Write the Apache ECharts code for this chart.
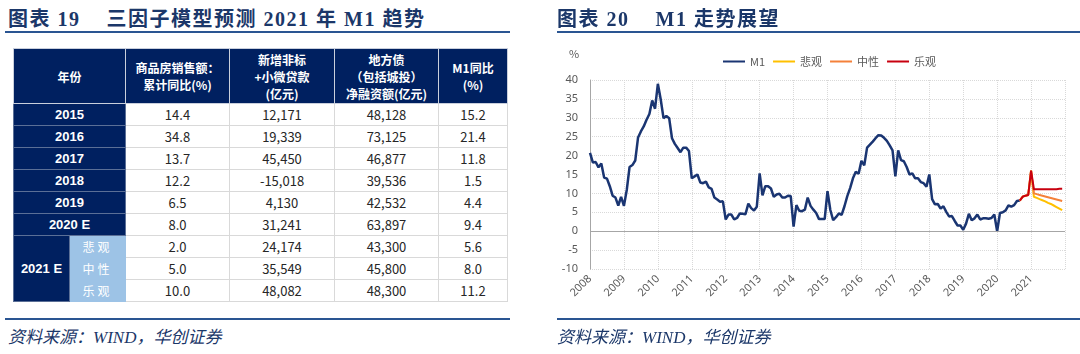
<!DOCTYPE html>
<html>
<head>
<meta charset="utf-8">
<script src="https://cdn.jsdelivr.net/npm/echarts@6/dist/echarts.min.js"></script>
<style>
body { margin: 0; width: 1080px; height: 354px; background: #fff; position: relative; overflow: hidden; font-family: "Noto Sans CJK SC", sans-serif; }
.title { position: absolute; top: 3px; font-family: "Liberation Serif", "Noto Sans CJK SC", serif; font-weight: bold; font-size: 20px; letter-spacing: 1.5px; color: #1b3769; white-space: pre; }
.rule { position: absolute; height: 2px; background: #2a5592; }
.source { position: absolute; top: 323px; font-family: "Liberation Serif", "Noto Sans CJK SC", serif; font-style: italic; font-size: 17px; color: #1b3769; }
#tbl { position: absolute; left: 13px; top: 48px; border-collapse: collapse; table-layout: fixed; border-right: 1px solid #1f3864; border-bottom: 1px solid #1f3864; }
#tbl td { padding: 0; text-align: center; height: 21px; font-size: 13px; color: #262626; border: 1px solid #d9d9d9; font-family: "Noto Sans CJK SC", sans-serif; }
#tbl tr.head td { height: 54px; background: #002060; color: #fff; font-weight: bold; font-size: 12px; line-height: 17px; border-color: #c9cfdc; }
#tbl td.yr { background: #002060; color: #fff; font-weight: bold; font-family: "Liberation Sans", sans-serif; border-color: #5b6f96; }
#tbl td.sc { background: #9dc3e6; color: #fff; font-size: 12px; letter-spacing: 3px; border-color: #9dc3e6; }
#chart { position: absolute; left: 550px; top: 0; width: 530px; height: 354px; }
</style>
</head>
<body>
<div class="title" style="left:8px">图表 19    三因子模型预测 2021 年 M1 趋势</div>
<div class="rule" style="left:5px;width:505px;top:31px"></div>
<table id="tbl"></table>
<div class="rule" style="left:5px;width:505px;top:318px"></div>
<div class="source" style="left:8px">资料来源：WIND，华创证券</div>

<div id="chart"></div>
<div class="title" style="left:557px">图表 20    M1 走势展望</div>
<div class="rule" style="left:557px;width:523px;top:31px"></div>
<div class="rule" style="left:557px;width:523px;top:318px"></div>
<div class="source" style="left:557px">资料来源：WIND，华创证券</div>

<script>
// 表格数据
var tableYears = ['2015', '2016', '2017', '2018', '2019', '2020 E'];
var scenarioYear = '2021 E';
var scenarioNames = ['悲观', '中性', '乐观'];
var salesYoY = [14.4, 34.8, 13.7, 12.2, 6.5, 8.0, 2.0, 5.0, 10.0];
var nonStdLoans = [12171, 19339, 45450, -15018, 4130, 31241, 24174, 35549, 48082];
var localDebt = [48128, 73125, 46877, 39536, 42532, 63897, 43300, 45800, 48300];
var m1YoYTable = [15.2, 21.4, 11.8, 1.5, 4.4, 9.4, 5.6, 8.0, 11.2];
var tableHead = ['年份', '商品房销售额：<br>累计同比(%)', '新增非标<br>+小微贷款<br>(亿元)', '地方债<br>（包括城投）<br>净融资额(亿元)', 'M1同比<br>(%)'];

// 图表数据：M1同比 2008/1 - 2020/9
var m1 = [
  20.7, 18.2, 18.3, 16.9, 17.9, 14.2, 13.9, 11.9, 9.4, 8.9, 6.8, 9.1,
  6.7, 10.9, 17.0, 17.5, 18.7, 24.8, 26.4, 27.7, 29.5, 31.0, 34.6, 32.4,
  39.0, 34.9, 29.9, 30.5, 29.9, 24.6, 23.1, 22.0, 20.9, 22.1, 22.1, 21.2,
  14.0, 14.5, 15.0, 12.9, 12.7, 13.1, 11.6, 11.2, 8.9, 8.4, 7.8, 7.9,
  3.1, 4.4, 4.4, 3.1, 3.5, 4.7, 4.6, 4.5, 7.3, 6.1, 5.5, 6.5,
  15.3, 9.5, 11.9, 11.9, 11.3, 9.1, 9.7, 9.9, 8.9, 8.9, 9.4, 9.3,
  1.2, 6.9, 5.4, 5.3, 5.7, 8.9, 6.7, 5.7, 4.8, 3.2, 3.2, 3.2,
  10.6, 5.6, 2.9, 3.7, 4.7, 4.3, 6.6, 9.3, 11.4, 14.0, 15.7, 15.2,
  18.6, 17.4, 22.1, 22.9, 23.7, 24.6, 25.4, 25.3, 24.7, 23.9, 22.7, 21.4,
  14.5, 21.4, 18.8, 18.5, 17.0, 15.0, 15.3, 14.0, 14.0, 13.0, 12.7, 11.8,
  15.0, 8.5, 7.1, 7.2, 6.0, 6.6, 5.1, 3.9, 4.0, 2.7, 1.5, 1.5,
  0.4, 2.0, 4.6, 2.9, 3.4, 4.4, 3.1, 3.4, 3.4, 3.3, 3.5, 4.4,
  0.0, 4.8, 5.0, 5.5, 6.8, 6.5, 6.9, 8.0, 8.1
];
// 情景预测 2020/9 - 2021/12
var scenarioStart = '2020/9';
var bearish = [8.1, 9.1, 9.4, 9.6, 16.0, 9.1, 8.8, 8.5, 8.2, 7.9, 7.5, 7.2, 6.8, 6.4, 6.0, 5.6];
var neutral = [8.1, 9.1, 9.4, 9.6, 16.0, 10.0, 9.8, 9.6, 9.4, 9.2, 9.0, 8.8, 8.6, 8.4, 8.2, 8.0];
var bullish = [8.1, 9.1, 9.4, 9.6, 16.0, 11.1, 11.1, 11.1, 11.1, 11.1, 11.1, 11.1, 11.1, 11.1, 11.2, 11.2];
var yTicks = { min: -10, max: 40, interval: 5 };

// 生成表格
var html = '<colgroup><col style="width:56px"><col style="width:56px"><col style="width:104px"><col style="width:105px"><col style="width:104px"><col style="width:69px"></colgroup>';
html += '<tr class="head"><td colspan="2">' + tableHead[0] + '</td>';
for (var h = 1; h < tableHead.length; h++) html += '<td>' + tableHead[h] + '</td>';
html += '</tr>';
function cells(i) {
    return '<td>' + salesYoY[i].toFixed(1) + '</td><td>' + nonStdLoans[i].toLocaleString('en-US') +
        '</td><td>' + localDebt[i].toLocaleString('en-US') + '</td><td>' + m1YoYTable[i].toFixed(1) + '</td>';
}
for (var i = 0; i < tableYears.length; i++) {
    html += '<tr><td class="yr" colspan="2">' + tableYears[i] + '</td>' + cells(i) + '</tr>';
}
for (var s = 0; s < scenarioNames.length; s++) {
    var k = tableYears.length + s;
    html += '<tr>' + (s === 0 ? '<td class="yr" rowspan="3">' + scenarioYear + '</td>' : '') +
        '<td class="sc">' + scenarioNames[s] + '</td>' + cells(k) + '</tr>';
}
document.getElementById('tbl').innerHTML = html;

// 月份类目 2008/1 - 2022/1
var months = [];
for (var y = 2008; y <= 2022; y++) {
    for (var m = 1; m <= 12; m++) {
        months.push(y + '/' + m);
        if (y === 2022) break;
    }
}
function pad(arr, start) {
    var idx = months.indexOf(start);
    var out = [];
    for (var j = 0; j < idx; j++) out.push(null);
    return out.concat(arr);
}

var myChart = echarts.init(document.getElementById('chart'));
myChart.setOption({
    animation: false,
    grid: { left: 40, right: 15, top: 80, bottom: 85 },
    legend: {
        data: ['M1', '悲观', '中性', '乐观'],
        left: 168,
        top: 51,
        icon: 'rect',
        itemWidth: 22,
        itemHeight: 2,
        itemGap: 8,
        textStyle: { color: '#595959', fontSize: 11, fontFamily: 'Noto Sans CJK SC' }
    },
    graphic: [{
        type: 'text', left: 19, top: 48,
        style: { text: '%', fill: '#595959', font: '11px "Noto Sans CJK SC"' }
    }],
    xAxis: {
        type: 'category',
        data: months,
        boundaryGap: false,
        axisLine: { show: false, onZero: false },
        axisTick: { show: false },
        axisLabel: {
            interval: function (idx) { return idx % 12 === 0 && idx < months.length - 1; },
            formatter: function (v) { return v.split('/')[0]; },
            rotate: 45,
            color: '#595959',
            fontSize: 11,
            margin: 8,
            fontFamily: 'Noto Sans'
        },
        splitLine: {
            show: true,
            interval: function (idx) { return idx % 12 === 0; },
            lineStyle: { color: '#d9d9d9', type: 'dotted' }
        }
    },
    yAxis: {
        type: 'value',
        min: yTicks.min,
        max: yTicks.max,
        interval: yTicks.interval,
        axisLine: { show: true, lineStyle: { color: '#a6a6a6' } },
        axisTick: { show: false },
        axisLabel: { color: '#595959', fontSize: 11, margin: 12, fontFamily: 'Noto Sans' },
        splitLine: { lineStyle: { color: '#d9d9d9', type: 'dotted' } }
    },
    series: [{
        name: 'M1', type: 'line', data: m1, showSymbol: false, symbol: 'none',
        lineStyle: { color: '#1a3572', width: 2.5 }, itemStyle: { color: '#1a3572' },
        markLine: {
            silent: true, symbol: 'none', label: { show: false },
            lineStyle: { color: '#a6a6a6', type: 'solid', width: 1 },
            data: [{ yAxis: 0 }]
        }
    }, {
        name: '悲观', type: 'line', data: pad(bearish, scenarioStart), symbol: 'none',
        lineStyle: { color: '#ffc000', width: 2 }, itemStyle: { color: '#ffc000' }
    }, {
        name: '中性', type: 'line', data: pad(neutral, scenarioStart), symbol: 'none',
        lineStyle: { color: '#f4813a', width: 2 }, itemStyle: { color: '#f4813a' }
    }, {
        name: '乐观', type: 'line', data: pad(bullish, scenarioStart), symbol: 'none',
        lineStyle: { color: '#c8000f', width: 2 }, itemStyle: { color: '#c8000f' }
    }]
});
</script>
</body>
</html>
